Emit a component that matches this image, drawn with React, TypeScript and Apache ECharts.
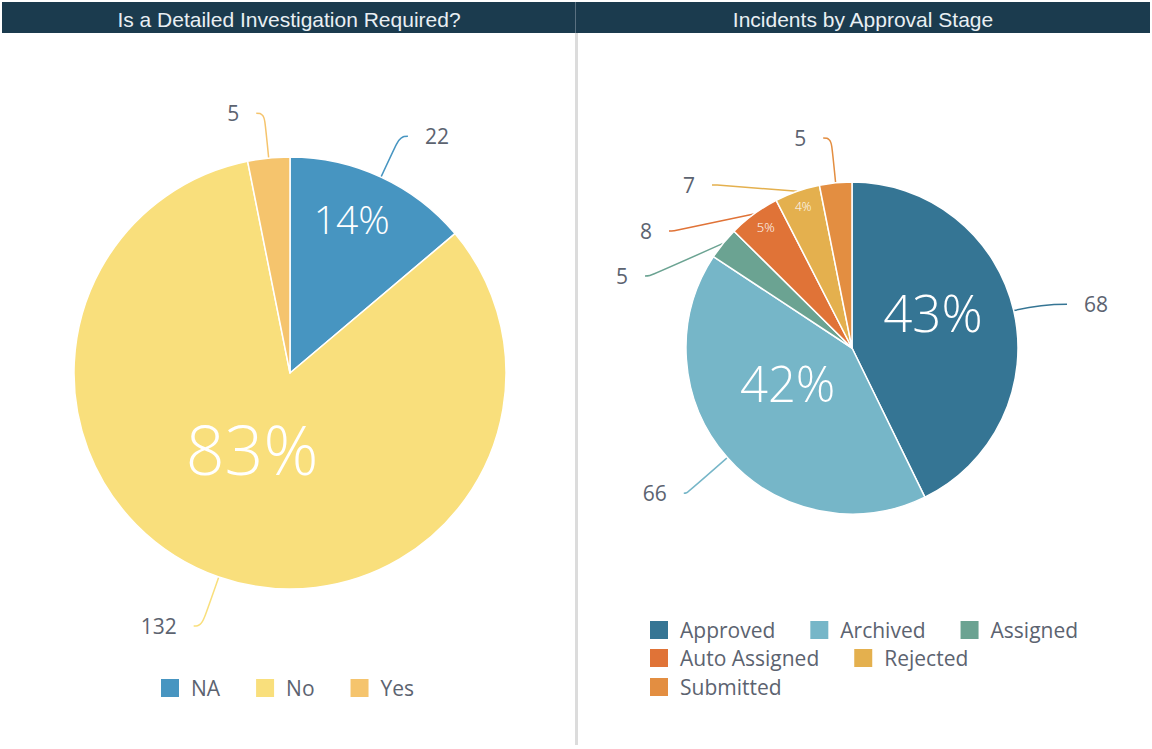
import React, { useEffect, useRef } from 'react';
import * as echarts from 'echarts';

const investigationCategories = ['NA', 'No', 'Yes'];
const investigationValues = [22, 132, 5];
const stageCategories = ['Approved', 'Archived', 'Assigned', 'Auto Assigned', 'Rejected', 'Submitted'];
const stageValues = [68, 66, 5, 8, 7, 5];

const investigationColors = ['#4795c1', '#f9df7c', '#f5c46d'];
const stageColors = ['#357594', '#76b6c8', '#6ba392', '#e07337', '#e4b04e', '#e38e41'];

const FONT = "'Open Sans', sans-serif";
const TEXT_GRAY = '#5c6370';
const HEADER = '#1b3b4e';

function mainPie(center: any, radius: number, cats: string[], vals: number[], colors: string[], lines: number[][], labelLayout?: any, labelPad?: (number | null)[]) {
  const s: any = {
    type: 'pie',
    center,
    radius,
    startAngle: 90,
    clockwise: true,
    percentPrecision: 0,
    avoidLabelOverlap: false,
    itemStyle: { borderColor: '#ffffff', borderWidth: 1.5 },
    label: {
      show: true,
      position: 'outside',
      formatter: '{c}',
      color: TEXT_GRAY,
      fontSize: 21,
      fontFamily: FONT,
      distanceToLabelLine: 17,
    },
    labelLine: { show: true, smooth: 0.5, lineStyle: { width: 1.5 } },
    emphasis: { disabled: true },
    data: cats.map((c, i) => ({
      name: c,
      value: vals[i],
      itemStyle: { color: colors[i] },
      labelLine: { length: lines[i][0], length2: lines[i][1] },
      label:
        labelPad && labelPad[i]
          ? { padding: [0, labelPad[i], 0, 0], backgroundColor: 'rgba(255,255,255,0)' }
          : undefined,
    })),
  };
  if (labelLayout) s.labelLayout = labelLayout;
  return s;
}

function pctPie(center: any, radius: number, cats: string[], vals: number[], sizes: (number | null)[], shifts: number[][]) {
  return {
    type: 'pie',
    center,
    radius: [0, radius],
    startAngle: 90,
    clockwise: true,
    percentPrecision: 0,
    silent: true,
    avoidLabelOverlap: false,
    itemStyle: { color: 'rgba(0,0,0,0)', borderWidth: 0 },
    label: {
      show: true,
      position: 'inside',
      formatter: '{d}%',
      color: '#ffffff',
      fontFamily: FONT,
      fontWeight: 300,
    },
    labelLine: { show: false },
    labelLayout: (p: any) => ({ dx: shifts[p.dataIndex][0], dy: shifts[p.dataIndex][1] }),
    emphasis: { disabled: true },
    data: cats.map((c, i) => ({
      name: c,
      value: vals[i],
      label: sizes[i] ? { show: true, fontSize: sizes[i] } : { show: false },
    })),
  };
}

function legend(data: string[], left: number, top: number, gap: number) {
  return {
    data,
    left,
    top,
    orient: 'horizontal',
    itemWidth: 20,
    itemHeight: 20,
    itemGap: gap,
    padding: 0,
    icon: 'rect',
    selectedMode: false,
    textStyle: { fontSize: 21, color: TEXT_GRAY, fontFamily: FONT, padding: [0, 0, 0, 6] },
  };
}

// label anchor spots for the crowded small slices on the right pie (labels only)
const stageLabelSpots: Record<number, number[]> = {
  2: [645, 276],
  3: [669, 231],
  4: [712, 185],
};

export default function App() {
  const ref = useRef<HTMLDivElement>(null);
  useEffect(() => {
    const chart = echarts.init(ref.current!, null, { renderer: 'svg' });
    const leftCenter = [290, 373];
    const rightCenter = [852, 348];
    chart.setOption({
      animation: false,
      backgroundColor: '#ffffff',
      graphic: [
        { type: 'rect', shape: { x: 2, y: 2, width: 1148, height: 31 }, style: { fill: HEADER } },
        { type: 'rect', shape: { x: 575, y: 2, width: 1, height: 31 }, style: { fill: '#5a7080' } },
        { type: 'rect', shape: { x: 575, y: 33, width: 3, height: 712 }, style: { fill: '#dcdcdc' } },
        {
          type: 'text',
          x: 289,
          y: 19,
          style: {
            text: 'Is a Detailed Investigation Required?',
            fill: '#e9eff3',
            font: "21px 'Liberation Sans', Arial, sans-serif",
            textAlign: 'center',
            textVerticalAlign: 'middle',
          },
        },
        {
          type: 'text',
          x: 863,
          y: 19,
          style: {
            text: 'Incidents by Approval Stage',
            fill: '#e9eff3',
            font: "21px 'Liberation Sans', Arial, sans-serif",
            textAlign: 'center',
            textVerticalAlign: 'middle',
          },
        },
      ],
      legend: [
        legend(investigationCategories, 159, 677, 34),
        legend(stageCategories.slice(0, 3), 648, 619, 33),
        legend(stageCategories.slice(3, 5), 648, 647, 33),
        legend(stageCategories.slice(5), 648, 676, 33),
      ],
      series: [
        mainPie(leftCenter, 216, investigationCategories, investigationValues, investigationColors, [
          [45, 8],
          [52, 8],
          [45, 8],
        ]),
        mainPie(
          rightCenter,
          166,
          stageCategories,
          stageValues,
          stageColors,
          [
            [28, 26],
            [54, 3],
            [12, 5],
            [12, 5],
            [15, 5],
            [45, 8],
          ],
          (p: any) => {
            const spot = stageLabelSpots[p.dataIndex];
            return spot ? { x: spot[0], y: spot[1] } : {};
          },
          [null, null, 17, 17, 17, null]
        ),
        pctPie(leftCenter, 176, investigationCategories, investigationValues, [null, 68, null], [[0, 0], [-8, -10], [0, 0]]),
        pctPie(leftCenter, 330, investigationCategories, investigationValues, [39, null, null], [[-9, -2], [0, 0], [0, 0]]),
        pctPie(rightCenter, 160, stageCategories, stageValues, [51, 49, null, null, null, null], [[0, -17], [-2, -20], [0, 0], [0, 0], [0, 0], [0, 0]]),
        pctPie(rightCenter, 296, stageCategories, stageValues, [null, null, null, 13, 12, null], [[0, 0], [0, 0], [0, 0], [3, 1], [1, 1], [0, 0]]),
      ],
    });
    return () => chart.dispose();
  }, []);
  return <div ref={ref} style={{ position: 'fixed', left: 0, top: 0, width: 1152, height: 749 }} />;
}
